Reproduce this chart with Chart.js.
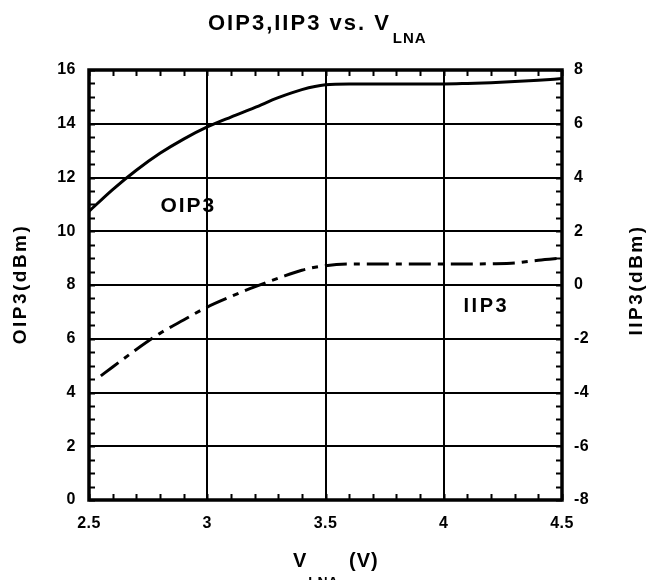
<!DOCTYPE html>
<html>
<head>
<meta charset="utf-8">
<script src="https://cdn.jsdelivr.net/npm/chart.js@4/dist/chart.umd.min.js"></script>
<style>
  html, body { margin: 0; padding: 0; background: #fff; }
  canvas { display: block; }
</style>
</head>
<body>
<canvas id="ip3-chart" width="652" height="580"></canvas>
<script>
  // V_LNA sweep (V) and the two curves
  var oip3Volts = [2.5, 2.6, 2.7, 2.8, 2.9, 3.0, 3.1, 3.2, 3.3, 3.4, 3.5, 3.6, 3.7, 3.8, 3.9, 4.0, 4.1, 4.2, 4.3, 4.4, 4.5];
  var oip3Values = [10.74, 11.55, 12.27, 12.9, 13.43, 13.88, 14.25, 14.6, 14.97, 15.27, 15.45, 15.48, 15.48, 15.48, 15.48, 15.48, 15.5, 15.53, 15.57, 15.62, 15.68];

  var iip3Volts = [2.55, 2.6, 2.7, 2.8, 2.9, 3.0, 3.1, 3.2, 3.3, 3.4, 3.5, 3.6, 3.7, 3.8, 3.9, 4.0, 4.1, 4.2, 4.3, 4.4, 4.5];
  var iip3Values = [-3.38, -3.05, -2.4, -1.8, -1.3, -0.82, -0.43, -0.07, 0.25, 0.55, 0.72, 0.78, 0.78, 0.78, 0.78, 0.78, 0.78, 0.79, 0.82, 0.92, 1.0];

  // axis ranges / tick steps
  var xRange = [2.5, 4.5], xStep = 0.5, xMinor = 0.1;
  var leftRange = [0, 16], rightRange = [-8, 8], yStep = 2, yMinor = 0.5;

  var FONT = 'Liberation Sans, Arial, sans-serif';

  function pairs(xs, ys) {
    return xs.map(function (x, i) { return { x: x, y: ys[i] }; });
  }

  function spacedText(ctx, txt, x, y, size, spacing, align) {
    ctx.font = 'bold ' + size + 'px ' + FONT;
    ctx.letterSpacing = spacing + 'px';
    ctx.textAlign = align || 'left';
    ctx.fillText(txt, x, y);
    return ctx.measureText(txt).width;
  }

  // frame, minor ticks, titles and curve labels
  var decorations = {
    id: 'decorations',
    beforeDraw: function (chart) {
      chart.ctx.letterSpacing = '0.5px';
    },
    afterDraw: function (chart) {
      var ctx = chart.ctx,
        area = chart.chartArea,
        xs = chart.scales.x,
        yl = chart.scales.y,
        yr = chart.scales.y2;

      ctx.save();
      ctx.strokeStyle = '#000';
      ctx.fillStyle = '#000';

      // minor ticks
      ctx.lineWidth = 2;
      ctx.beginPath();
      for (var v = xRange[0]; v <= xRange[1] + 1e-9; v += xMinor) {
        var px = Math.round(xs.getPixelForValue(v)) + 0.5;
        ctx.moveTo(px, area.bottom); ctx.lineTo(px, area.bottom - 6);
        ctx.moveTo(px, area.top); ctx.lineTo(px, area.top + 6);
      }
      for (var w = leftRange[0]; w <= leftRange[1] + 1e-9; w += yMinor) {
        var py = Math.round(yl.getPixelForValue(w)) + 0.5;
        ctx.moveTo(area.left, py); ctx.lineTo(area.left + 6, py);
      }
      for (var r = rightRange[0]; r <= rightRange[1] + 1e-9; r += yMinor) {
        var pr = Math.round(yr.getPixelForValue(r)) + 0.5;
        ctx.moveTo(area.right, pr); ctx.lineTo(area.right - 6, pr);
      }
      ctx.stroke();

      // heavy frame
      ctx.lineWidth = 3.5;
      ctx.strokeRect(area.left, area.top, area.right - area.left, area.bottom - area.top);

      ctx.textBaseline = 'alphabetic';

      // title with subscript
      var tw = spacedText(ctx, 'OIP3,IIP3 vs. V', 208, 30, 22, 2);
      spacedText(ctx, 'LNA', 208 + tw + 2, 43, 15, 1);

      // x axis title
      var vw = spacedText(ctx, 'V', 293, 567, 20, 1);
      spacedText(ctx, 'LNA', 293 + vw + 1, 587, 14, 0.5);
      spacedText(ctx, '(V)', 349, 567, 20, 1);

      // curve labels, placed in data units
      spacedText(ctx, 'OIP3', xs.getPixelForValue(2.92), yl.getPixelForValue(10.72), 21, 2, 'center');
      spacedText(ctx, 'IIP3', xs.getPixelForValue(4.18), yr.getPixelForValue(-1.02), 20, 2.5, 'center');

      // rotated axis titles
      ctx.textBaseline = 'middle';
      ctx.save();
      ctx.translate(21, 284);
      ctx.rotate(-Math.PI / 2);
      spacedText(ctx, 'OIP3(dBm)', 0, 0, 19, 2.5, 'center');
      ctx.restore();

      ctx.save();
      ctx.translate(637, 280);
      ctx.rotate(-Math.PI / 2);
      spacedText(ctx, 'IIP3(dBm)', 0, 0, 19, 2.5, 'center');
      ctx.restore();

      ctx.restore();
    }
  };

  var tickFont = { family: FONT, weight: 'bold', size: 16 };

  new Chart(document.getElementById('ip3-chart'), {
    type: 'line',
    data: {
      datasets: [{
        label: 'OIP3',
        data: pairs(oip3Volts, oip3Values),
        yAxisID: 'y',
        borderColor: '#000',
        borderWidth: 3,
        pointRadius: 0,
        cubicInterpolationMode: 'monotone'
      }, {
        label: 'IIP3',
        data: pairs(iip3Volts, iip3Values),
        yAxisID: 'y2',
        borderColor: '#000',
        borderWidth: 3,
        borderDash: [22, 7, 6, 7],
        pointRadius: 0,
        cubicInterpolationMode: 'monotone'
      }]
    },
    options: {
      responsive: false,
      animation: false,
      layout: { padding: { top: 70, left: 0, right: 0, bottom: 0 } },
      plugins: {
        legend: { display: false },
        tooltip: { enabled: false },
        title: { display: false }
      },
      scales: {
        x: {
          type: 'linear',
          min: xRange[0],
          max: xRange[1],
          afterFit: function (s) { s.height = 80; },
          ticks: {
            stepSize: xStep, color: '#000', font: tickFont, padding: 14, maxRotation: 0,
            callback: function (val) { return String(Math.round(val * 10) / 10); }
          },
          grid: { color: '#000', lineWidth: 2, drawTicks: false },
          border: { display: false }
        },
        y: {
          position: 'left',
          min: leftRange[0],
          max: leftRange[1],
          afterFit: function (s) { s.width = 89; },
          ticks: { stepSize: yStep, color: '#000', font: tickFont, padding: 13 },
          grid: { color: '#000', lineWidth: 2, drawTicks: false },
          border: { display: false }
        },
        y2: {
          position: 'right',
          min: rightRange[0],
          max: rightRange[1],
          afterFit: function (s) { s.width = 90; },
          ticks: { stepSize: yStep, color: '#000', font: tickFont, padding: 12 },
          grid: { display: false, drawTicks: false },
          border: { display: false }
        }
      }
    },
    plugins: [decorations]
  });
</script>
</body>
</html>
